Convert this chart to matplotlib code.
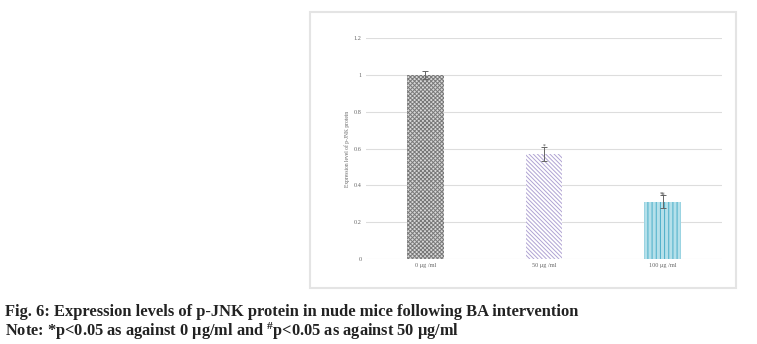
import numpy as np
import matplotlib.pyplot as plt
from matplotlib.patches import Rectangle

# Expression of p-JNK relative to the 0 ug/ml group
groups = ['0 μg /ml', '50 μg /ml', '100 μg /ml']
levels = [1.00, 0.57, 0.31]
errors = [0.02, 0.04, 0.035]
marks = ['', '*', '*#']

face_colors = ['#d8d8d8', 'white', '#b5e0ea']
hatch_colors = ['#787878', '#b0a3d3', '#4aaec8']
hatches = ['xxxxxxxx', '\\\\\\\\\\\\\\\\', '||||']

plt.rcParams['hatch.linewidth'] = 0.7
plt.rcParams['mathtext.fontset'] = 'custom'
plt.rcParams['mathtext.rm'] = 'Liberation Serif:bold'
plt.rcParams['mathtext.it'] = 'Liberation Serif:bold'

fig = plt.figure(figsize=(7.57, 3.44), dpi=100)

# light frame around the chart
frame = Rectangle((0.4095, 0.163), 0.5625, 0.802, transform=fig.transFigure,
                  fill=False, edgecolor='#e4e4e4', linewidth=1.5)
fig.add_artist(frame)

axis = fig.add_axes([0.4835, 0.247, 0.4703, 0.6425])
x = np.arange(len(groups))
bars = axis.bar(x, levels, width=0.31, zorder=2, linewidth=0)
for bar, fc, hc, h in zip(bars, face_colors, hatch_colors, hatches):
    bar.set_facecolor(fc)
    bar.set_edgecolor(hc)
    bar.set_hatch(h)

axis.errorbar(x, levels, yerr=errors, fmt='none', ecolor='#666666',
              elinewidth=0.7, capsize=2, capthick=0.7, zorder=3)

for xi, lv, er, m in zip(x, levels, errors, marks):
    if m:
        axis.text(xi, lv + er - 0.01, m, ha='center', va='bottom', fontsize=4,
                  color='#444444', family='Liberation Serif')

axis.set_xlim(-0.5, 2.5)
axis.set_ylim(0, 1.2)
axis.set_yticks(np.arange(0, 1.21, 0.2))
axis.set_yticklabels(['0', '0.2', '0.4', '0.6', '0.8', '1', '1.2'])
axis.set_xticks(x)
axis.set_xticklabels(groups)
axis.tick_params(length=0, labelsize=4.5, labelcolor='#666666', pad=3)
for lab in axis.get_xticklabels() + axis.get_yticklabels():
    lab.set_family('Liberation Serif')
axis.grid(axis='y', color='#dddddd', linewidth=0.8, zorder=0)
for s in axis.spines.values():
    s.set_visible(False)
axis.set_ylabel('Expression level of p-JNK protein', fontsize=4,
                color='#666666', family='Liberation Serif', labelpad=3)

fig.text(0.006, 0.08, 'Fig. 6: Expression levels of p-JNK protein in nude mice following BA intervention',
         fontsize=11.9, fontweight='bold', family='Liberation Serif', color='#222222')
fig.text(0.006, 0.022, 'Note: *p<0.05 as against 0 μg/ml and $^{\\#}$p<0.05 as against 50 μg/ml',
         fontsize=11.8, fontweight='bold', family='Liberation Serif', color='#222222')

fig.savefig('out.png', dpi=100)
